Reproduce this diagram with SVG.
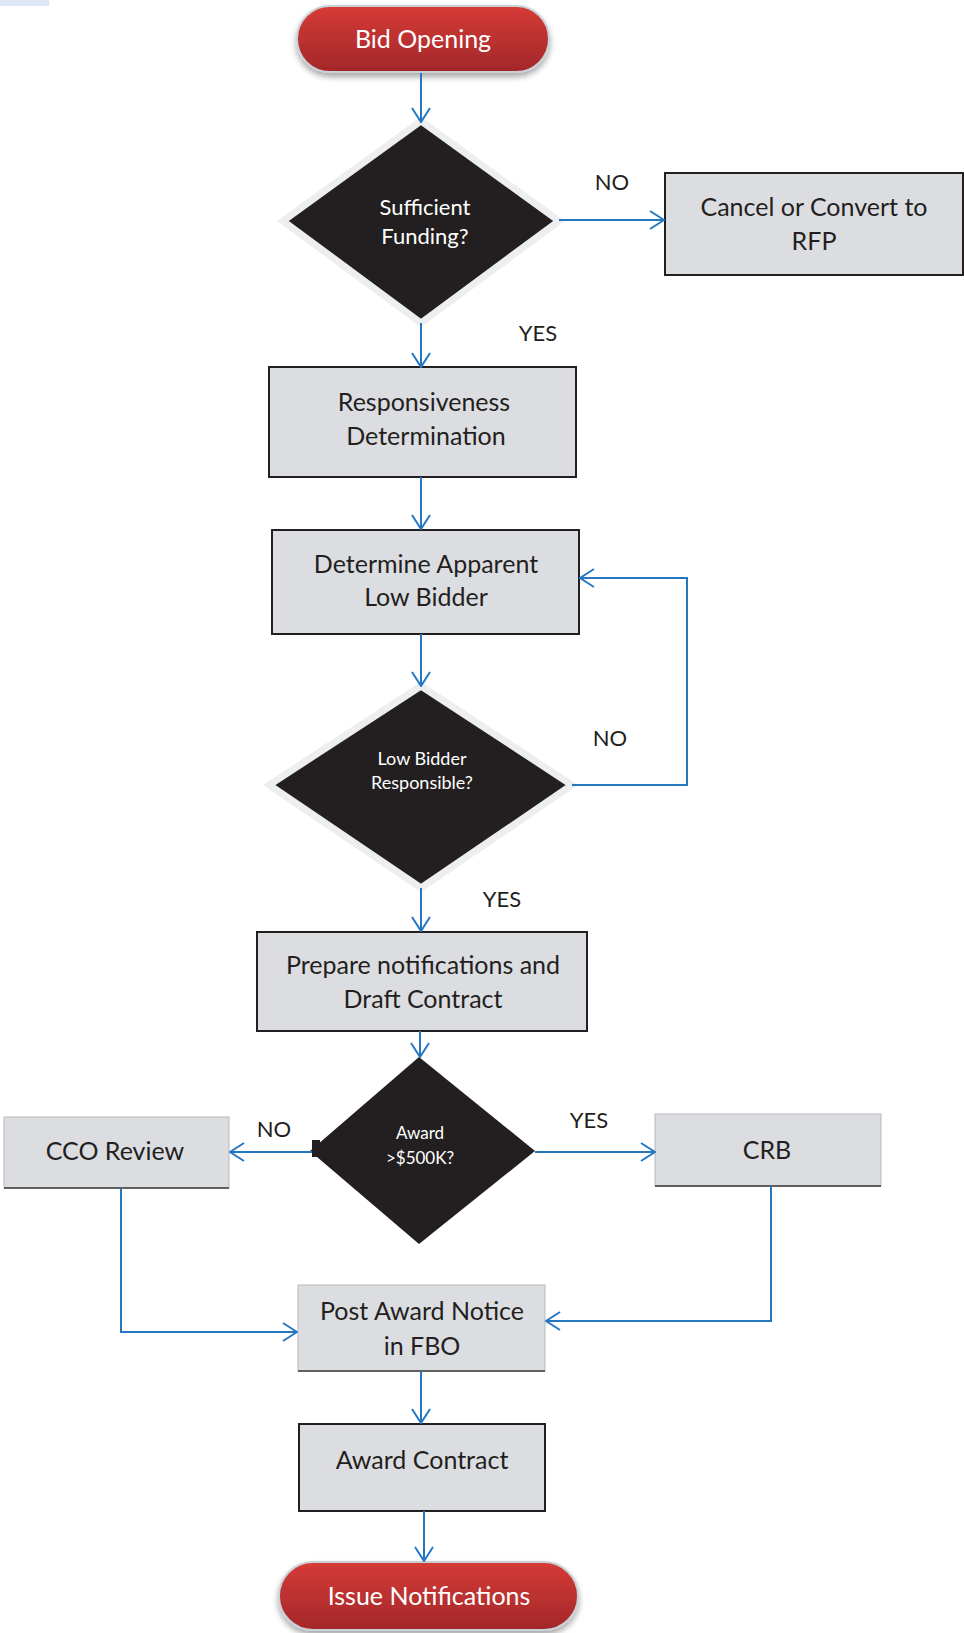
<svg xmlns="http://www.w3.org/2000/svg" width="964" height="1633" viewBox="0 0 964 1633">
<defs>
<linearGradient id="red" x1="0" y1="0" x2="0" y2="1">
<stop offset="0" stop-color="#d63b36"/>
<stop offset="1" stop-color="#a2272a"/>
</linearGradient>
<filter id="sh" x="-10%" y="-20%" width="120%" height="150%">
<feGaussianBlur in="SourceAlpha" stdDeviation="3"/>
<feOffset dx="0" dy="4"/>
<feComponentTransfer><feFuncA type="linear" slope="0.35"/></feComponentTransfer>
<feMerge><feMergeNode/><feMergeNode in="SourceGraphic"/></feMerge>
</filter>
<marker id="ah" viewBox="0 0 16 20" refX="15" refY="10" markerWidth="16" markerHeight="20" markerUnits="userSpaceOnUse" orient="auto">
<path d="M1,1 L15,10 L1,19" fill="none" stroke="#2677c2" stroke-width="2"/>
</marker>
</defs>
<style>
text{font-family:Lato,"Open Sans","Liberation Sans",sans-serif;text-anchor:middle}
.pt{fill:#ffffff;font-size:25px}
.bx{fill:#dcdde0;stroke:#231f20;stroke-width:2}
.bx2{fill:#dcdde0;stroke:#b8b9bb;stroke-width:1}
.bt{fill:#231f20;font-size:25px}
.dm{fill:#231f20;stroke:#eceef0;stroke-width:7;stroke-linejoin:miter}
.dt{fill:#ffffff}
.lb{fill:#231f20;font-size:22px}
.c{fill:none;stroke:#2677c2;stroke-width:2}
</style>
<rect x="0" y="0" width="49" height="6" fill="#dce6f4"/>
<g id="bid-opening">
<rect x="297" y="6" width="252" height="66" rx="33" fill="url(#red)" stroke="#c9d0d6" stroke-width="2" filter="url(#sh)"/>
<text class="pt" x="423" y="48">Bid Opening</text>
</g>
<g id="sufficient-funding">
<polygon class="dm" points="421,121 559,221 421,323 283,221"/>
<text class="dt" x="425" y="215" font-size="22">Sufficient</text>
<text class="dt" x="425" y="244" font-size="22">Funding?</text>
</g>
<g id="cancel">
<rect class="bx" x="665" y="173" width="298" height="102"/>
<text class="bt" x="814" y="216">Cancel or Convert to</text>
<text class="bt" x="814" y="250">RFP</text>
</g>
<g id="responsiveness">
<rect class="bx" x="269" y="367" width="307" height="110"/>
<text class="bt" x="424" y="411">Responsiveness</text>
<text class="bt" x="426" y="445">Determination</text>
</g>
<g id="determine-low-bidder">
<rect class="bx" x="272" y="530" width="307" height="104"/>
<text class="bt" x="426" y="573">Determine Apparent</text>
<text class="bt" x="426" y="606">Low Bidder</text>
</g>
<g id="low-bidder-responsible">
<polygon class="dm" points="421,686 572,785 421,888 269,785"/>
<text class="dt" x="422" y="765" font-size="18">Low Bidder</text>
<text class="dt" x="422" y="789" font-size="18">Responsible?</text>
</g>
<g id="prepare">
<rect class="bx" x="257" y="932" width="330" height="99"/>
<text class="bt" x="423" y="974">Prepare notifications and</text>
<text class="bt" x="423" y="1008">Draft Contract</text>
</g>
<g id="award-500k">
<polygon points="419,1057 535,1151 419,1244 310,1151" fill="#231f20"/>
<rect x="312" y="1140" width="8" height="17" fill="#231f20"/>
<text class="dt" x="420" y="1139" font-size="17">Award</text>
<text class="dt" x="420" y="1164" font-size="17">&gt;$500K?</text>
</g>
<g id="cco-review">
<rect class="bx2" x="4" y="1117" width="225" height="71"/>
<line x1="4" y1="1188" x2="229" y2="1188" stroke="#3a3a3a" stroke-width="1.5"/>
<text class="bt" x="115" y="1160">CCO Review</text>
</g>
<g id="crb">
<rect class="bx2" x="655" y="1114" width="226" height="72"/>
<line x1="655" y1="1186" x2="881" y2="1186" stroke="#3a3a3a" stroke-width="1.5"/>
<text class="bt" x="767" y="1159">CRB</text>
</g>
<g id="post-award">
<rect class="bx2" x="298" y="1285" width="247" height="86"/>
<line x1="298" y1="1371" x2="545" y2="1371" stroke="#3a3a3a" stroke-width="1.5"/>
<text class="bt" x="422" y="1320">Post Award Notice</text>
<text class="bt" x="422" y="1355">in FBO</text>
</g>
<g id="award-contract">
<rect class="bx" x="299" y="1424" width="246" height="87"/>
<text class="bt" x="422" y="1469">Award Contract</text>
</g>
<g id="issue-notifications">
<rect x="279" y="1562" width="299" height="68" rx="34" fill="url(#red)" stroke="#c9d0d6" stroke-width="2" filter="url(#sh)"/>
<text class="pt" x="429" y="1605">Issue Notifications</text>
</g>
<g id="connectors">
<path class="c" d="M421,73 V122" marker-end="url(#ah)"/>
<path class="c" d="M559,220 H664" marker-end="url(#ah)"/>
<path class="c" d="M421,323 V367" marker-end="url(#ah)"/>
<path class="c" d="M421,477 V529" marker-end="url(#ah)"/>
<path class="c" d="M421,634 V686" marker-end="url(#ah)"/>
<path class="c" d="M572,785 H687 V578 H580" marker-end="url(#ah)"/>
<path class="c" d="M421,888 V931" marker-end="url(#ah)"/>
<path class="c" d="M420,1031 V1057" marker-end="url(#ah)"/>
<path class="c" d="M312,1152 H230" marker-end="url(#ah)"/>
<path class="c" d="M535,1152 H655" marker-end="url(#ah)"/>
<path class="c" d="M121,1188 V1332 H297" stroke-width="1.5" marker-end="url(#ah)"/>
<path class="c" d="M771,1186 V1321 H546" marker-end="url(#ah)"/>
<path class="c" d="M421,1371 V1423" stroke-width="3" marker-end="url(#ah)"/>
<path class="c" d="M424,1511 V1561" marker-end="url(#ah)"/>
</g>
<g id="labels">
<text class="lb" x="612" y="190">NO</text>
<text class="lb" x="538" y="341">YES</text>
<text class="lb" x="610" y="746">NO</text>
<text class="lb" x="502" y="907">YES</text>
<text class="lb" x="274" y="1137">NO</text>
<text class="lb" x="589" y="1128">YES</text>
</g>
</svg>
